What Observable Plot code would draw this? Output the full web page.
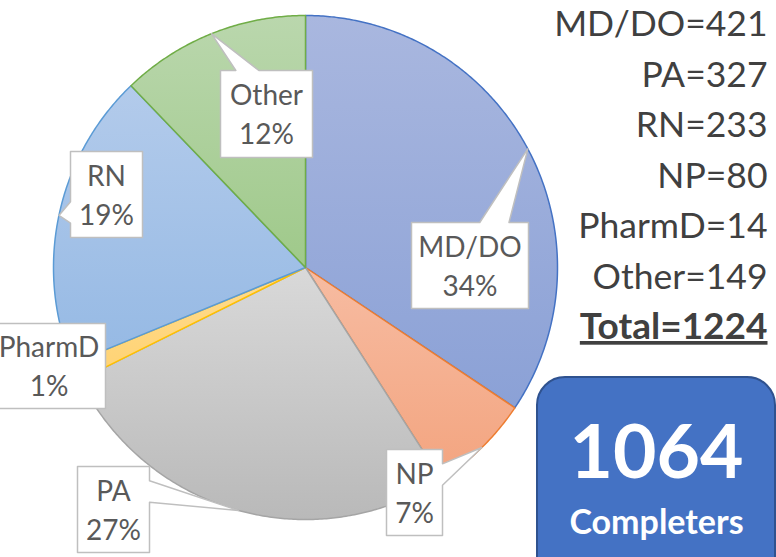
<!DOCTYPE html>
<html>
<head>
<meta charset="utf-8">
<script src="https://cdn.jsdelivr.net/npm/d3@7"></script>
<script src="https://cdn.jsdelivr.net/npm/@observablehq/plot@0.6"></script>
<style>
  html, body { margin: 0; padding: 0; background: #fff; overflow: hidden; }
  #chart svg { display: block; }
</style>
</head>
<body>
<div id="chart"></div>
<script>
// ---------- data ----------
const categories = ["MD/DO", "NP", "PA", "PharmD", "RN", "Other"];
const counts = [421, 80, 327, 14, 233, 149];
const legendOrder = ["MD/DO", "PA", "RN", "NP", "PharmD", "Other"];
const completers = 1064;
const completersLabel = "Completers";

// ---------- styles ----------
const gradTop = ["#a9b7df", "#f7bca2", "#d9d9d9", "#ffdc8f", "#b3cbeb", "#bad7ad"];
const gradBottom = ["#8ba1d6", "#f3a47f", "#b9b9b9", "#ffd272", "#95b9e4", "#9fc98a"];
const sliceStroke = ["#4472c4", "#ed7d31", "#a5a5a5", "#ffc000", "#5b9bd5", "#70ad47"];

// ---------- layout (pixels) ----------
const W = 776, H = 557;
const CX = 305, CY = 267, R = 252;
const labelBoxes = {           // [x1, y1, x2, y2]
  "MD/DO": [411, 222, 528, 308],
  "NP": [386, 449, 442, 535],
  "PA": [77, 466, 149, 552],
  "PharmD": [-8, 323, 105, 408],
  "RN": [70, 151, 142, 237],
  "Other": [220, 70, 312, 157]
};
const legendX = 767, legendY0 = 35.5, legendStep = 50.5;
const boxRect = [537, 377, 775, 600];

// ---------- derived ----------
const rows = categories.map((c, i) => ({category: c, count: counts[i]}));
const total = d3.sum(counts);
const arcs = d3.pie().sort(null).value(d => d.count)(rows);
const pt = (t, r) => ({x: CX + r * Math.sin(t), y: CY - r * Math.cos(t)});

const slices = arcs.map(a => {
  const pts = [{category: a.data.category, px: CX, py: CY}];
  const n = Math.max(2, Math.ceil((a.endAngle - a.startAngle) / (Math.PI / 360)));
  for (let k = 0; k <= n; ++k) {
    const t = a.startAngle + (a.endAngle - a.startAngle) * k / n;
    const p = pt(t, R);
    pts.push({category: a.data.category, px: p.x, py: p.y});
  }
  return pts;
});

function callout(b, tip) {
  const [x1, y1, x2, y2] = b, w = x2 - x1, h = y2 - y1;
  const cx = (x1 + x2) / 2, cy = (y1 + y2) / 2;
  const dx = tip.x - cx, dy = tip.y - cy;
  const T = [tip.x, tip.y];
  if (tip.x >= x1 && tip.x <= x2 && tip.y >= y1 && tip.y <= y2)
    return [[x1, y1], [x2, y1], [x2, y2], [x1, y2]];
  if (Math.abs(dx) * h > Math.abs(dy) * w) {
    const ya = y1 + h * (dy > 1 ? 7 : 2) / 12, yb = y1 + h * (dy > 1 ? 10 : 5) / 12;
    if (dx > 0) return [[x1, y1], [x2, y1], [x2, ya], T, [x2, yb], [x2, y2], [x1, y2]];
    return [[x1, y1], [x2, y1], [x2, y2], [x1, y2], [x1, yb], T, [x1, ya]];
  } else {
    const xa = x1 + w * (dx > 0 ? 7 : 2) / 12, xb = x1 + w * (dx > 0 ? 10 : 5) / 12;
    if (dy < 0) return [[x1, y1], [xa, y1], T, [xb, y1], [x2, y1], [x2, y2], [x1, y2]];
    return [[x1, y1], [x2, y1], [x2, y2], [xb, y2], T, [xa, y2], [x1, y2]];
  }
}

const calloutPts = [];
const labelRows = [];
arcs.forEach(a => {
  const c = a.data.category;
  const b = labelBoxes[c];
  const tip = pt((a.startAngle + a.endAngle) / 2, R);
  callout(b, tip).forEach(([x, y]) => calloutPts.push({category: c, px: x, py: y}));
  labelRows.push({
    category: c,
    px: (b[0] + b[2]) / 2,
    py: (b[1] + b[3]) / 2 + 30,
    text: `${c}\n${Math.round(a.data.count / total * 100)}%`
  });
});

const legendRows = legendOrder.map((c, i) => ({
  text: `${c}=${counts[categories.indexOf(c)]}`,
  py: legendY0 + i * legendStep
}));
const totalRow = [{text: `Total=${total}`, py: legendY0 + legendOrder.length * legendStep}];

// ---------- plot ----------
const chart = Plot.plot({
  width: W,
  height: H,
  margin: 0,
  x: {domain: [0, W], range: [0, W], axis: null},
  y: {domain: [0, H], range: [0, H], axis: null},
  style: {fontFamily: "Lato, 'Open Sans', sans-serif", background: "white", overflow: "visible"},
  marks: [
    ...slices.map((pts, i) => Plot.line(pts, {
      x: "px", y: "py", curve: "linear-closed",
      fill: `url(#slice-grad-${i})`, stroke: sliceStroke[i], strokeWidth: 1.5, strokeLinejoin: "round"
    })),
    Plot.line(calloutPts, {
      x: "px", y: "py", z: "category", curve: "linear-closed",
      fill: "white", stroke: "#bfbfbf", strokeWidth: 1.5
    }),
    Plot.text(labelRows, {
      x: "px", y: "py", text: "text", fontSize: 28, lineHeight: 1.38,
      lineAnchor: "bottom", textAnchor: "middle", fill: "#595959"
    }),
    Plot.text(legendRows, {
      x: () => legendX, y: "py", text: "text", fontSize: 35.5,
      lineAnchor: "bottom", textAnchor: "end", fill: "#404040"
    }),
    Plot.text(totalRow, {
      x: () => legendX, y: "py", text: "text", fontSize: 37, fontWeight: "bold",
      lineAnchor: "bottom", textAnchor: "end", fill: "#404040"
    }),
    Plot.rect([0], {
      x1: () => boxRect[0], x2: () => boxRect[2], y1: () => boxRect[1], y2: () => boxRect[3],
      rx: 28, fill: "#4472c4", stroke: "#2f528f", strokeWidth: 2
    }),
    Plot.text([String(completers)], {
      x: () => (boxRect[0] + boxRect[2]) / 2, y: () => 477, text: d => d,
      fontSize: 75, fontWeight: "bold", fill: "white", lineAnchor: "bottom", textAnchor: "middle"
    }),
    Plot.text([completersLabel], {
      x: () => (boxRect[0] + boxRect[2]) / 2, y: () => 533, text: d => d,
      fontSize: 34, fontWeight: "bold", fill: "white", lineAnchor: "bottom", textAnchor: "middle"
    })
  ]
});

// gradients
const defs = d3.select(chart).insert("defs", ":first-child");
gradTop.forEach((c, i) => {
  const g = defs.append("linearGradient").attr("id", `slice-grad-${i}`)
    .attr("x1", 0).attr("y1", 0).attr("x2", 0).attr("y2", 1);
  g.append("stop").attr("offset", "0%").attr("stop-color", c);
  g.append("stop").attr("offset", "100%").attr("stop-color", gradBottom[i]);
});
d3.select(chart).selectAll("text")
  .filter(function() { return this.textContent.startsWith("Total="); })
  .style("text-decoration", "underline");

document.getElementById("chart").appendChild(chart);
</script>
</body>
</html>
